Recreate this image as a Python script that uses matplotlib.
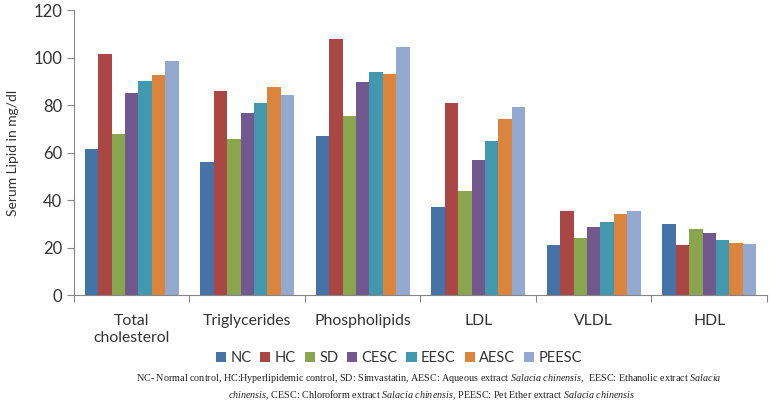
import numpy as np
import matplotlib
matplotlib.use("Agg")
from matplotlib import pyplot as plt

plt.rcParams['font.family'] = ['Lato', 'DejaVu Sans']
plt.rcParams['mathtext.fontset'] = 'custom'
plt.rcParams['mathtext.rm'] = 'Liberation Serif'
plt.rcParams['mathtext.it'] = 'Liberation Serif:italic'

categories = ["Total\ncholesterol", "Triglycerides", "Phospholipids", "LDL", "VLDL", "HDL"]
groups = ["NC", "HC", "SD", "CESC", "EESC", "AESC", "PEESC"]
nc = [61.5, 56.0, 67.0, 37.2, 20.9, 29.8]
hc = [101.5, 86.0, 107.6, 81.0, 35.2, 20.9]
sd = [67.9, 65.5, 75.2, 43.8, 24.0, 27.6]
cesc = [84.9, 76.5, 89.5, 57.0, 28.5, 26.0]
eesc = [90.0, 81.0, 94.0, 65.0, 30.7, 23.2]
aesc = [92.5, 87.4, 93.0, 74.2, 34.0, 21.8]
peesc = [98.4, 84.1, 104.6, 79.0, 35.2, 21.3]
series = [nc, hc, sd, cesc, eesc, aesc, peesc]
colors = ["#4572A7", "#AA4643", "#89A54E", "#71588F", "#4198AF", "#DB843D", "#93A9CF"]

fig = plt.figure(figsize=(7.7, 4.04), dpi=100)
ax = fig.add_axes([0.0961, 0.2698, 0.9, 0.7054])

x = np.arange(len(categories)) + 0.5
w = 0.815 / len(groups)
for i, (vals, c) in enumerate(zip(series, colors)):
    ax.bar(x + (i - 3) * w, vals, width=w, color=c, label=groups[i], linewidth=0)

ax.set_xlim(0, len(categories))
ax.set_ylim(0, 120)
ax.set_yticks(range(0, 121, 20))
ax.set_xticks(range(len(categories) + 1))
ax.set_xticklabels([])
ax.set_xticks(x, minor=True)
ax.set_xticklabels(categories, minor=True, fontsize=11.3, color="#333333")
ax.tick_params(axis='x', which='minor', length=0, pad=14)
ax.tick_params(axis='x', which='major', length=5, color="#868686")
ax.tick_params(axis='y', length=5, color="#868686", labelsize=12, labelcolor="#333333")
for s in ["top", "right"]:
    ax.spines[s].set_visible(False)
for s in ["left", "bottom"]:
    ax.spines[s].set_color("#868686")
ax.set_ylabel("Serum Lipid in mg/dl", fontsize=10, color="#333333", labelpad=10)

fig.legend(loc="center", bbox_to_anchor=(0.518, 0.114), ncol=7, frameon=False,
           fontsize=10.5, handlelength=0.7, handleheight=0.7, handletextpad=0.3,
           columnspacing=0.6, labelcolor="#333333")

fn1 = (r"NC- Normal control, HC:Hyperlipidemic control, SD: Simvastatin, AESC: Aqueous extract "
       r"$\it{Salacia\ chinensis}$,  EESC: Ethanolic extract $\it{Salacia}$")
fn2 = (r"$\it{chinensis}$, CESC: Chloroform extract $\it{Salacia\ chinensis}$, "
       r"PEESC: Pet Ether extract $\it{Salacia\ chinensis}$")
fig.text(0.557, 0.064, fn1, ha="center", va="center", fontsize=7.25,
         family="Liberation Serif", color="#222222")
fig.text(0.561, 0.021, fn2, ha="center", va="center", fontsize=7.25,
         family="Liberation Serif", color="#222222")

fig.savefig("out.png", dpi=100)
